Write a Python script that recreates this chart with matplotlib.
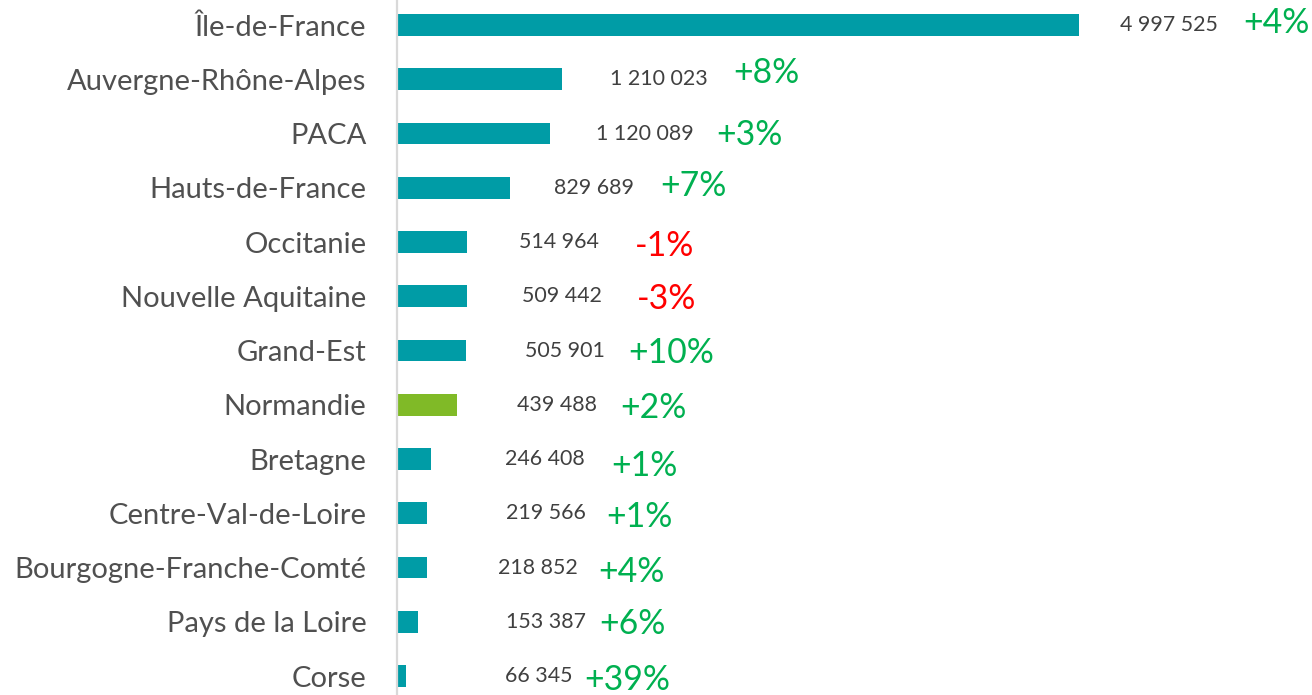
import matplotlib.pyplot as plt

# data
regions = ["Île-de-France", "Auvergne-Rhône-Alpes", "PACA", "Hauts-de-France",
           "Occitanie", "Nouvelle Aquitaine", "Grand-Est", "Normandie", "Bretagne",
           "Centre-Val-de-Loire", "Bourgogne-Franche-Comté", "Pays de la Loire", "Corse"]
values = [4997525, 1210023, 1120089, 829689, 514964, 509442, 505901,
          439488, 246408, 219566, 218852, 153387, 66345]
changes = [4, 8, 3, 7, -1, -3, 10, 2, 1, 1, 4, 6, 39]
highlight = "Normandie"

# label layout (pixels from the bar end), as placed in the original
val_gap = [41, 48, 46, 44, 52, 55, 59, 60, 74, 79, 71, 88, 99]
pct_gap = [164, 171, 166, 150, 168, 170, 162, 163, 181, 179, 171, 181, 178]
pct_dy = [2, 6, -1, 2, -4, -3, -2, -3, -7, -4, -4, -2, -4]

plt.rcParams['font.family'] = ['Lato', 'DejaVu Sans']

fig = plt.figure(figsize=(13.12, 6.95), dpi=100)
ax = fig.add_axes([397 / 1312, 0, 1 - 397 / 1312, 1])

teal = '#009CA6'
green_bar = '#80BA27'
colors = [green_bar if r == highlight else teal for r in regions]
ypos = list(range(len(regions)))
ax.barh(ypos, values, height=0.405, color=colors)

ax.set_xlim(0, 6.705e6)
ax.set_ylim(12.35, -0.461)

for i, v in enumerate(values):
    txt = f"{v:,}".replace(",", " ")
    ax.annotate(txt, (v, i), xytext=(val_gap[i], 0), textcoords='offset pixels',
                ha='left', va='center', fontsize=15.4, color='#404040')
    c = changes[i]
    ptxt = f"+{c}%" if c > 0 else f"{c}%"
    pcol = '#00B050' if c >= 0 else '#FF0000'
    ax.annotate(ptxt, (v, i), xytext=(pct_gap[i], pct_dy[i]), textcoords='offset pixels',
                ha='left', va='center', fontsize=24.3, color=pcol)

ax.set_yticks(ypos)
ax.set_yticklabels(regions, fontsize=21, color='#505050')
ax.tick_params(axis='y', length=0, pad=22)
ax.set_xticks([])
for s in ['top', 'right', 'bottom']:
    ax.spines[s].set_visible(False)
ax.spines['left'].set_color('#D9D9D9')
ax.spines['left'].set_linewidth(1.6)

fig.savefig('out.png', dpi=100)
